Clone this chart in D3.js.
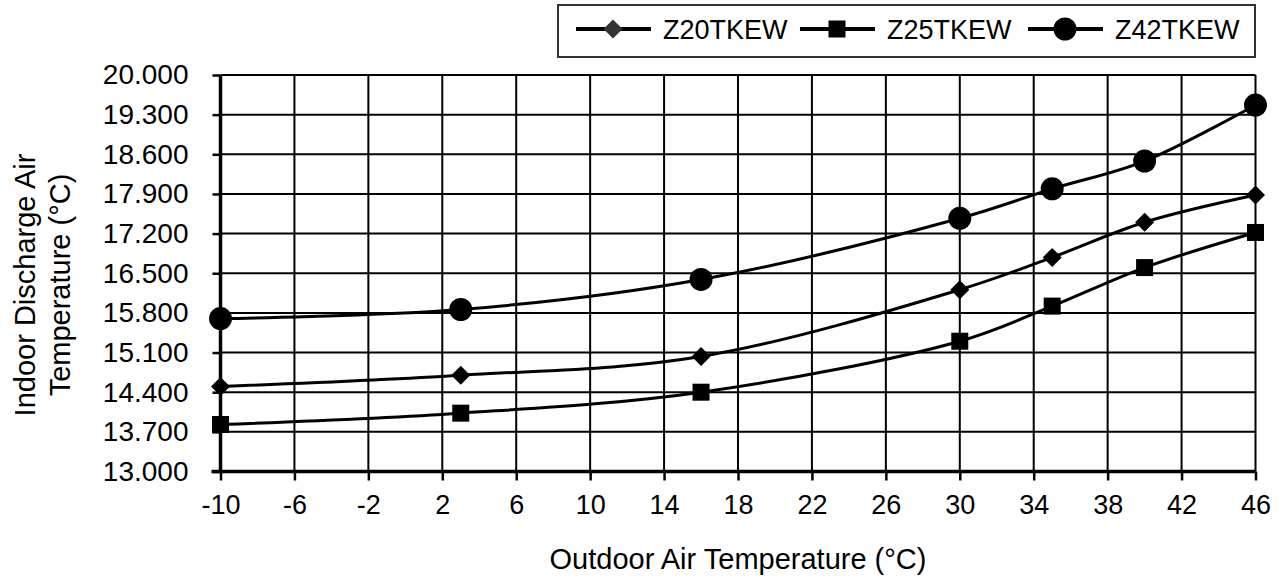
<!DOCTYPE html>
<html>
<head>
<meta charset="utf-8">
<script src="https://cdn.jsdelivr.net/npm/d3@7"></script>
<style>
  html, body { margin: 0; padding: 0; background: #fff; }
  svg { display: block; font-family: "Liberation Sans", Arial, sans-serif; }
</style>
</head>
<body>
<svg id="chart" width="1282" height="579"></svg>
<script>
// ---- data ----
const temps = [-10, 3, 16, 30, 35, 40, 46];
const seriesNames = ["Z20TKEW", "Z25TKEW", "Z42TKEW"];
const z20 = [14.50, 14.70, 15.03, 16.21, 16.78, 17.40, 17.88];
const z25 = [13.83, 14.03, 14.40, 15.30, 15.92, 16.60, 17.22];
const z42 = [15.70, 15.86, 16.39, 17.47, 17.99, 18.48, 19.47];
const xTicks = [-10, -6, -2, 2, 6, 10, 14, 18, 22, 26, 30, 34, 38, 42, 46];
const yTicks = [13.0, 13.7, 14.4, 15.1, 15.8, 16.5, 17.2, 17.9, 18.6, 19.3, 20.0];
const markerTypes = ["diamond", "square", "circle"];
const xTitle = "Outdoor Air Temperature (°C)";
const yTitleLines = ["Indoor Discharge Air", "Temperature (°C)"];

const seriesData = [z20, z25, z42];

const svg = d3.select("#chart");
const pL = 220.5, pR = 1255.5, pT = 75, pB = 471.5;

const x = d3.scaleLinear().domain([-10, 46]).range([pL, pR]);
const y = d3.scaleLinear().domain([13, 20]).range([pB, pT]);

// grid
const grid = svg.append("g");
grid.selectAll("line.h").data(yTicks).join("line")
  .attr("x1", pL).attr("x2", pR)
  .attr("y1", d => y(d)).attr("y2", d => y(d))
  .attr("stroke", "#000").attr("stroke-width", 2);
grid.selectAll("line.v").data(xTicks).join("line")
  .attr("y1", pT).attr("y2", pB)
  .attr("x1", d => x(d)).attr("x2", d => x(d))
  .attr("stroke", "#000").attr("stroke-width", 2);

// axes
const xAxis = svg.append("g").attr("transform", `translate(0,${pB})`)
  .call(d3.axisBottom(x).tickValues(xTicks).tickSize(9).tickPadding(14).tickFormat(d => String(d)));
xAxis.select(".domain").attr("d", `M${pL - 9},0H${pR}`).attr("stroke-width", 3.5);
xAxis.selectAll(".tick line").attr("stroke-width", 2.5);
xAxis.selectAll("text").attr("font-size", 27).attr("fill", "#000")
  .attr("font-family", "Liberation Sans, Arial, sans-serif");

const yAxis = svg.append("g").attr("transform", `translate(${pL},0)`)
  .call(d3.axisLeft(y).tickValues(yTicks).tickSize(8).tickPadding(24).tickFormat(d3.format(".3f")));
yAxis.select(".domain").attr("d", `M0,${pT}V${pB}`).attr("stroke-width", 3.5);
yAxis.selectAll(".tick line").attr("stroke-width", 2.5);
yAxis.selectAll("text").attr("font-size", 28).attr("fill", "#000")
  .attr("font-family", "Liberation Sans, Arial, sans-serif");

// lines
const line = d3.line().x((d, i) => x(temps[i])).y(d => y(d)).curve(d3.curveCatmullRom.alpha(0.5));
svg.append("g").selectAll("path").data(seriesData).join("path")
  .attr("d", d => line(d))
  .attr("fill", "none").attr("stroke", "#000").attr("stroke-width", 3);

function drawMarker(g, type, cx, cy, fill) {
  if (type === "circle") {
    g.append("circle").attr("cx", cx).attr("cy", cy).attr("r", 11.5).attr("fill", fill);
  } else if (type === "square") {
    g.append("rect").attr("x", cx - 8.5).attr("y", cy - 8.5).attr("width", 17).attr("height", 17).attr("fill", fill);
  } else {
    const r = 9.5;
    g.append("path").attr("d", `M${cx},${cy - r}L${cx + r},${cy}L${cx},${cy + r}L${cx - r},${cy}Z`).attr("fill", fill);
  }
}

const markers = svg.append("g");
seriesData.forEach((s, si) => {
  s.forEach((v, i) => drawMarker(markers, markerTypes[si], x(temps[i]), y(v), "#000"));
});

// titles
svg.append("text").attr("x", (pL + pR) / 2).attr("y", 569)
  .attr("text-anchor", "middle").attr("font-size", 29).text(xTitle);
const yt = svg.append("g").attr("transform", "translate(0,285) rotate(-90)");
yTitleLines.forEach((t, i) => {
  yt.append("text").attr("x", 0).attr("y", 35 + i * 35)
    .attr("text-anchor", "middle").attr("font-size", 29).text(t);
});

// legend
const lg = svg.append("g");
lg.append("rect").attr("x", 558).attr("y", 5).attr("width", 697).attr("height", 52)
  .attr("fill", "#fff").attr("stroke", "#333").attr("stroke-width", 2);
const legX = [576, 800, 1028];
seriesNames.forEach((n, i) => {
  const x0 = legX[i];
  lg.append("line").attr("x1", x0).attr("x2", x0 + 75).attr("y1", 29).attr("y2", 29)
    .attr("stroke", "#000").attr("stroke-width", 4);
  drawMarker(lg, markerTypes[i], x0 + 37, 29, i === 0 ? "#333" : "#000");
  lg.append("text").attr("x", x0 + 87).attr("y", 39).attr("font-size", 27).text(n);
});
</script>
</body>
</html>
